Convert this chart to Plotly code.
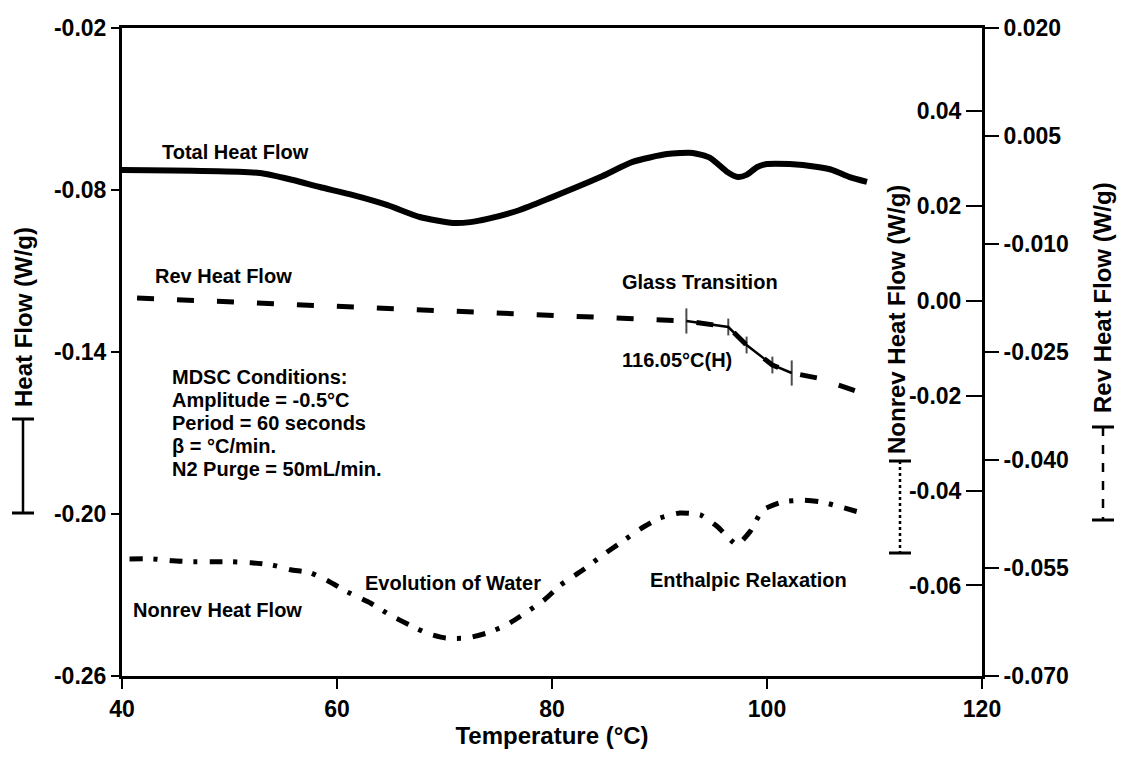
import plotly.graph_objects as go

# ---------------- data ----------------
total_T = [40.0, 52.8, 55.9, 58.4, 61.5, 64.7, 67.7, 70.8, 72.4, 74.0, 77.0, 79.8,
           84.5, 87.5, 90.7, 93.1, 94.7, 96.3, 97.3, 98.1, 99.1, 100.0, 102.1,
           104.7, 106.1, 107.7, 109.3]
total_hf = [-0.0726, -0.0737, -0.0763, -0.0789, -0.0819, -0.0856, -0.0900, -0.0922,
            -0.0919, -0.0907, -0.0874, -0.0830, -0.0752, -0.0696, -0.0667, -0.0663,
            -0.0681, -0.0733, -0.0752, -0.0744, -0.0715, -0.0704, -0.0704, -0.0715,
            -0.0726, -0.0752, -0.0770]

rev_T = [41.4, 51.9, 65.9, 79.8, 92.5, 96.4, 98.1, 100.5, 102.3, 104.7, 108.4, 109.4]
rev_hf = [-0.01750, -0.01813, -0.01903, -0.01986, -0.02069, -0.02153, -0.02403,
          -0.02681, -0.02792, -0.02861, -0.03056, -0.03097]

# glass-transition analysis points (subset of the reversing curve)
gt_T = [92.5, 96.4, 98.1, 100.5, 102.3]
gt_hf = [-0.02069, -0.02153, -0.02403, -0.02681, -0.02792]

nonrev_T = [40.7, 42.9, 44.7, 46.5, 48.3, 50.2, 52.0, 54.0, 55.7, 57.5, 59.3, 61.0,
            63.1, 64.9, 66.7, 68.5, 70.1, 72.1, 74.0, 75.8, 79.3, 80.8, 82.9, 84.7,
            86.5, 88.2, 90.0, 91.9, 93.8, 95.4, 97.2, 98.4, 99.6, 101.4, 103.3,
            105.1, 107.1, 108.8]
nonrev_hf = [-0.0544, -0.0544, -0.0548, -0.0550, -0.0550, -0.0550, -0.0552, -0.0557,
             -0.0567, -0.0573, -0.0592, -0.0614, -0.0637, -0.0662, -0.0683, -0.0702,
             -0.0711, -0.0711, -0.0700, -0.0683, -0.0630, -0.0599, -0.0567, -0.0536,
             -0.0508, -0.0481, -0.0458, -0.0447, -0.0451, -0.0476, -0.0514, -0.0487,
             -0.0441, -0.0424, -0.0420, -0.0424, -0.0436, -0.0447]

x_ticks = [40, 60, 80, 100, 120]
left_ticks = [-0.26, -0.20, -0.14, -0.08, -0.02]
left_labels = ["-0.26", "-0.20", "-0.14", "-0.08", "-0.02"]
nonrev_ticks = [-0.06, -0.04, -0.02, 0.00, 0.02, 0.04]
nonrev_labels = ["-0.06", "-0.04", "-0.02", "0.00", "0.02", "0.04"]
rev_ticks = [0.020, 0.005, -0.010, -0.025, -0.040, -0.055, -0.070]
rev_labels = ["0.020", "0.005", "-0.010", "-0.025", "-0.040", "-0.055", "-0.070"]

# ---------------- figure ----------------
FONT = "Liberation Sans"
W, H = 1128, 757
L, R, T, B = 122, 146, 28, 81
PW, PH = W - L - R, H - T - B


def px(xp):
    return (xp - L) / PW


def py(yp):
    return (H - B - yp) / PH


fig = go.Figure()
fig.add_trace(go.Scatter(x=total_T, y=total_hf, mode="lines", yaxis="y",
                         line=dict(color="black", width=6, shape="spline", smoothing=0.6),
                         name="Total Heat Flow", showlegend=False))
fig.add_trace(go.Scatter(x=rev_T, y=rev_hf, mode="lines", yaxis="y3",
                         line=dict(color="black", width=5, dash="17px,23px"),
                         name="Rev Heat Flow", showlegend=False))
fig.add_trace(go.Scatter(x=gt_T, y=gt_hf, mode="lines+markers", yaxis="y3",
                         line=dict(color="black", width=2.5),
                         marker=dict(symbol="line-ns", size=[18, 12, 12, 12, 18],
                                     line=dict(color="black", width=2)),
                         name="Glass Transition", showlegend=False))
fig.add_trace(go.Scatter(x=nonrev_T, y=nonrev_hf, mode="lines", yaxis="y2",
                         line=dict(color="black", width=5, dash="13px,11px,4px,12px",
                                   shape="spline", smoothing=0.5),
                         name="Nonrev Heat Flow", showlegend=False))

tick_font = dict(family=FONT, size=23, color="black", weight="bold")

fig.update_layout(
    width=W, height=H,
    margin=dict(l=L, r=R, t=T, b=B),
    paper_bgcolor="white", plot_bgcolor="white",
    font=dict(family=FONT, color="black"),
    xaxis=dict(range=[40, 120], tickvals=x_ticks, ticks="outside", ticklen=10,
               tickwidth=2, tickcolor="black", showline=True, linewidth=3,
               linecolor="black", mirror=True, showgrid=False, zeroline=False,
               tickfont=tick_font,
               title=dict(text="Temperature (°C)", standoff=6,
                          font=dict(family=FONT, size=24, color="black", weight="bold"))),
    yaxis=dict(range=[-0.26, -0.02], tickvals=left_ticks, ticktext=left_labels,
               ticks="outside", ticklen=8, tickwidth=2, tickcolor="black",
               showline=True, linewidth=3, linecolor="black", showgrid=False,
               zeroline=False, tickfont=tick_font),
    # nonreversing axis: labels sit just left of the right frame line
    yaxis2=dict(range=[-0.0791, 0.0576], tickvals=nonrev_ticks, ticktext=nonrev_labels,
                overlaying="y", side="left", anchor="free", position=1.0,
                ticks="outside", ticklen=16, tickwidth=2, tickcolor="black",
                showline=False, showgrid=False, zeroline=False, tickfont=tick_font),
    yaxis3=dict(range=[-0.070, 0.020], tickvals=rev_ticks, ticktext=rev_labels,
                overlaying="y", side="right", anchor="x", ticks="outside",
                ticklen=14, tickwidth=2, tickcolor="black", showline=True,
                linewidth=3, linecolor="black", showgrid=False, zeroline=False,
                tickfont=tick_font),
)

ann_font = dict(family=FONT, size=20, color="black", weight="bold")


def add_label(text, xp, yp, xanchor="left"):
    fig.add_annotation(text=text, xref="paper", yref="paper", x=px(xp), y=py(yp),
                       xanchor=xanchor, yanchor="middle", showarrow=False,
                       font=ann_font)


add_label("Total Heat Flow", 160, 152)
add_label("Rev Heat Flow", 153, 276)
add_label("Glass Transition", 620, 282)
add_label("116.05°C(H)", 620, 360)
add_label("Evolution of Water", 363, 583)
add_label("Enthalpic Relaxation", 648, 580)
add_label("Nonrev Heat Flow", 131, 610)

mdsc = ["MDSC Conditions:", "Amplitude = -0.5°C", "Period = 60 seconds",
        "β = °C/min.", "N2 Purge = 50mL/min."]
for i, line in enumerate(mdsc):
    add_label(line, 170, 377 + i * 23)

title_font = dict(family=FONT, size=24, color="black", weight="bold")


def add_vtitle(text, xp, yp):
    fig.add_annotation(text=text, xref="paper", yref="paper", x=px(xp), y=py(yp),
                       xanchor="center", yanchor="middle", textangle=-90,
                       showarrow=False, font=title_font)


add_vtitle("Heat Flow (W/g)", 23, 317)
add_vtitle("Nonrev Heat Flow (W/g)", 896, 320)
add_vtitle("Rev Heat Flow (W/g)", 1102, 298)


def bracket(xc, y0, y1, dash):
    fig.add_shape(type="line", xref="paper", yref="paper", x0=px(xc), x1=px(xc),
                  y0=py(y0), y1=py(y1), line=dict(color="black", width=2.5, dash=dash))
    for yy in (y0, y1):
        fig.add_shape(type="line", xref="paper", yref="paper", x0=px(xc - 11),
                      x1=px(xc + 11), y0=py(yy), y1=py(yy),
                      line=dict(color="black", width=3))


bracket(23, 419, 513, "solid")
bracket(900, 461, 553, "dot")
bracket(1103, 427, 520, "dash")

fig.write_html("out.html")
